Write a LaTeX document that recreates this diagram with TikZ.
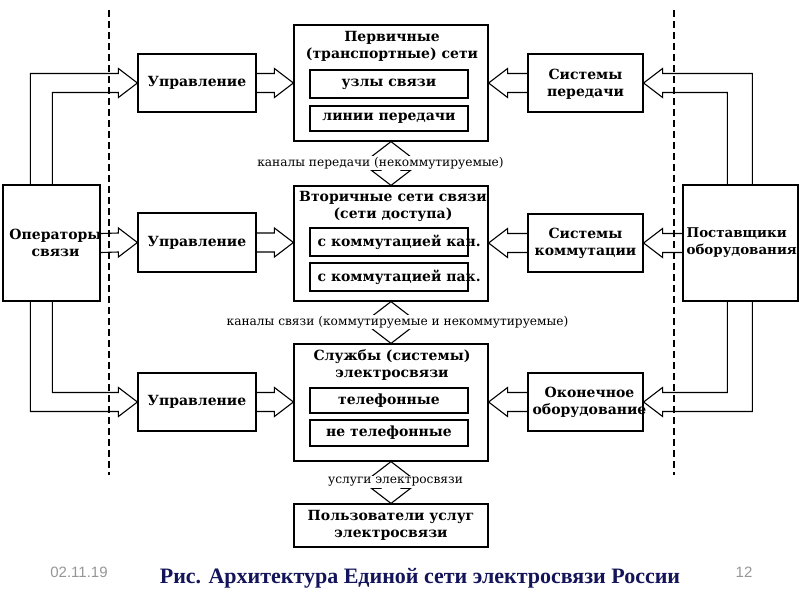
\documentclass[tikz,border=0pt]{standalone}
\usepackage{fontspec}
\setmainfont{DejaVu Serif}
\newfontfamily\capfont{Liberation Serif}
\newfontfamily\datefont{Liberation Sans}
\usetikzlibrary{calc}
\definecolor{navy}{RGB}{20,20,90}
\definecolor{dategray}{RGB}{150,150,150}
\tikzset{
  box/.style={draw, line width=1.2pt, inner sep=0pt, fill=none},
  btxt/.style={inner sep=0pt, align=center, font=\fontsize{14}{17}\selectfont\bfseries},
  ltxt/.style={inner sep=0pt, align=left, font=\fontsize{13.4}{17}\selectfont\bfseries},
  ibox/.style={draw, line width=1.2pt, inner sep=0pt, minimum width=158, minimum height=27},
  lbl/.style={fill=white, inner sep=1.5pt, font=\fontsize{12.2}{13}\selectfont},
  barrow/.style={draw, line width=1.1pt, line join=miter},
  divider/.style={line width=1.1pt, dash pattern=on 7pt off 4pt},
}
\newcommand{\vdarrow}[2]{%
  \draw[barrow] (#1) -- ($(#1)+(19.5,15)$) -- ($(#1)+(10,15)$) -- ($(#2)+(10,-15)$) -- ($(#2)+(19.5,-15)$) -- (#2)
   -- ($(#2)+(-19.5,-15)$) -- ($(#2)+(-10,-15)$) -- ($(#1)+(-10,15)$) -- ($(#1)+(-19.5,15)$) -- cycle;}
\newcommand{\harrowR}[2]{%
  \draw[barrow] ($(#1)+(0,-9.5)$) -- ($(#2)+(-19,-9.5)$) -- ($(#2)+(-19,-14.5)$) -- (#2) -- ($(#2)+(-19,14.5)$) -- ($(#2)+(-19,9.5)$) -- ($(#1)+(0,9.5)$);}
\newcommand{\harrowL}[2]{%
  \draw[barrow] ($(#1)+(0,-9.5)$) -- ($(#2)+(19,-9.5)$) -- ($(#2)+(19,-14.5)$) -- (#2) -- ($(#2)+(19,14.5)$) -- ($(#2)+(19,9.5)$) -- ($(#1)+(0,9.5)$);}
\begin{document}
\begin{tikzpicture}[x=1pt,y=-1pt]
\useasboundingbox (0,0) rectangle (800,600);
% dividers
\draw[divider] (109,10) -- (109,475);
\draw[divider] (674,10) -- (674,475);
% outer boxes
\node[box, minimum width=97, minimum height=116] (op) at (51.5,243) {};
\node[box, minimum width=115, minimum height=116] (sup) at (740.5,243) {};
% management
\node[box, minimum width=118, minimum height=58] (u1) at (197,83) {};
\node[box, minimum width=118, minimum height=59] (u2) at (197,242.5) {};
\node[box, minimum width=118, minimum height=58] (u3) at (197,402) {};
% systems
\node[box, minimum width=115, minimum height=58] (s1) at (585.5,83) {};
\node[box, minimum width=115, minimum height=58] (s2) at (585.5,243) {};
\node[box, minimum width=115, minimum height=58] (s3) at (585.5,402) {};
% central
\node[box, minimum width=194, minimum height=116] (p1) at (391,83) {};
\node[box, minimum width=194, minimum height=115] (p2) at (391,243.5) {};
\node[box, minimum width=194, minimum height=117] (p3) at (391,402.5) {};
\node[box, minimum width=194, minimum height=43] (p4) at (391,525.5) {};
% inner boxes
\node[ibox, minimum height=28] (i11) at (389,84) {};
\node[ibox, minimum height=25] (i12) at (389,118.5) {};
\node[ibox, minimum height=28] (i21) at (389,242) {};
\node[ibox, minimum height=28] (i22) at (389,277) {};
\node[ibox, minimum height=25] (i31) at (389,400.5) {};
\node[ibox, minimum height=26] (i32) at (389,433) {};
% texts
\node[btxt] (top) at ($(op.center)+(4,0)$) {Операторы\\связи};
\node[ltxt, anchor=west] (tsup) at ($(sup.west)+(4,0)$) {Поставщики\\оборудования};
\node[btxt] (tu1) at (u1.center) {Управление};
\node[btxt] (tu2) at (u2.center) {Управление};
\node[btxt] (tu3) at (u3.center) {Управление};
\node[btxt] (ts1) at ($(s1.center)+(0,1)$) {Системы\\передачи};
\node[btxt] (ts2) at ($(s2.center)+(0,0)$) {Системы\\коммутации};
\node[btxt] (ts3) at ($(s3.center)+(4,0)$) {Оконечное\\оборудование};
\node[btxt] (tp1) at ($(p1.north)+(1,22)$) {Первичные\\(транспортные) сети};
\node[btxt] (tp2) at ($(p2.north)+(2,21.5)$) {Вторичные сети связи\\(сети доступа)};
\node[btxt] (tp3) at ($(p3.north)+(1,21.5)$) {Службы (системы)\\электросвязи};
\node[btxt] (tp4) at (p4.center) {Пользователи услуг\\электросвязи};
\node[btxt] (ti11) at (i11.center) {узлы связи};
\node[btxt] (ti12) at (i12.center) {линии передачи};
\node[btxt, anchor=west] (ti21) at ($(i21.west)+(8,0)$) {с коммутацией кан.};
\node[btxt, anchor=west] (ti22) at ($(i22.west)+(8,0)$) {с коммутацией пак.};
\node[btxt] (ti31) at (i31.center) {телефонные};
\node[btxt] (ti32) at (i32.center) {не телефонные};
% management -> central
\harrowR{u1.east}{u1.east -| p1.west}
\harrowR{u2.east}{u2.east -| p2.west}
\harrowR{u3.east}{u3.east -| p3.west}
% systems -> central
\harrowL{s1.west}{s1.west -| p1.east}
\harrowL{s2.west}{s2.west -| p2.east}
\harrowL{s3.west}{s3.west -| p3.east}
% operators -> management
\draw[barrow] ($(op.north west)+(28,0)$) |- ($(u1.west)+(-19,-9.5)$) -- ($(u1.west)+(-19,-14.5)$) -- (u1.west)
  -- ($(u1.west)+(-19,14.5)$) -- ($(u1.west)+(-19,9.5)$) -| ($(op.north west)+(50,0)$);
\harrowR{op.east}{u2.west}
\draw[barrow] ($(op.south west)+(50,0)$) |- ($(u3.west)+(-19,-9.5)$) -- ($(u3.west)+(-19,-14.5)$) -- (u3.west)
  -- ($(u3.west)+(-19,14.5)$) -- ($(u3.west)+(-19,9.5)$) -| ($(op.south west)+(28,0)$);
% suppliers -> systems
\draw[barrow] ($(sup.north west)+(70,0)$) |- ($(s1.east)+(19,-9.5)$) -- ($(s1.east)+(19,-14.5)$) -- (s1.east)
  -- ($(s1.east)+(19,14.5)$) -- ($(s1.east)+(19,9.5)$) -| ($(sup.north west)+(45,0)$);
\harrowL{sup.west}{s2.east}
\draw[barrow] ($(sup.south west)+(45,0)$) |- ($(s3.east)+(19,-9.5)$) -- ($(s3.east)+(19,-14.5)$) -- (s3.east)
  -- ($(s3.east)+(19,14.5)$) -- ($(s3.east)+(19,9.5)$) -| ($(sup.south west)+(70,0)$);
% vertical double arrows
\vdarrow{p1.south}{p2.north}
\vdarrow{p2.south}{p3.north}
\vdarrow{p3.south}{p4.north}
\node[lbl] (l1) at (380.5,163) {каналы передачи (некоммутируемые)};
\node[lbl] (l2) at (397.5,322) {каналы связи (коммутируемые и некоммутируемые)};
\node[lbl] (l3) at (395.5,482) {услуги электросвязи};
% footer
\node[inner sep=0pt, font=\datefont\fontsize{15}{15}\selectfont, text=dategray] (date) at (79,572) {02.11.19};
\node[inner sep=0pt, font=\datefont\fontsize{15}{15}\selectfont, text=dategray] (pg) at (744,572) {12};
\node[inner sep=0pt, font=\capfont\bfseries\fontsize{22}{22}\selectfont, text=navy] (cap) at (420,578) {Рис. Архитектура Единой сети электросвязи России};
\end{tikzpicture}
\end{document}
